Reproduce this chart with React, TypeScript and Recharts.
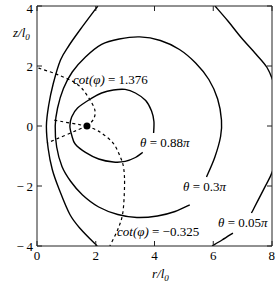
import React from 'react';
import { LineChart, Line, XAxis, YAxis, ReferenceDot } from 'recharts';

const rTicks = [0, 2, 4, 6, 8];
const zTicks = [-4, -2, 0, 2, 4];

// solid curves (r/l0, z/l0)
const theta088 = [
  { r: 3.97, z: -0.23 }, { r: 3.98, z: 0.15 }, { r: 3.9, z: 0.5 }, { r: 3.7, z: 0.85 },
  { r: 3.35, z: 1.1 }, { r: 3.0, z: 1.22 }, { r: 2.6, z: 1.2 }, { r: 2.2, z: 1.1 },
  { r: 1.85, z: 0.92 }, { r: 1.38, z: 0.6 }, { r: 1.18, z: 0.3 }, { r: 1.12, z: 0 },
  { r: 1.18, z: -0.3 }, { r: 1.3, z: -0.6 }, { r: 1.65, z: -0.88 }, { r: 2.1, z: -1.1 },
  { r: 2.6, z: -1.2 }, { r: 3.0, z: -1.18 }, { r: 3.35, z: -1.05 }, { r: 3.6, z: -0.88 },
];

const theta03 = [
  { r: 5.77, z: -1.7 }, { r: 6.05, z: -1.05 }, { r: 6.25, z: -0.35 }, { r: 6.28, z: 0.2 },
  { r: 6.15, z: 0.9 }, { r: 5.85, z: 1.55 }, { r: 5.4, z: 2.1 }, { r: 4.85, z: 2.55 },
  { r: 4.2, z: 2.85 }, { r: 3.5, z: 2.97 }, { r: 2.8, z: 2.9 }, { r: 2.2, z: 2.72 },
  { r: 1.65, z: 2.3 }, { r: 1.2, z: 1.8 }, { r: 0.9, z: 1.25 }, { r: 0.7, z: 0.6 },
  { r: 0.62, z: 0 }, { r: 0.67, z: -0.7 }, { r: 0.85, z: -1.35 }, { r: 1.15, z: -1.85 },
  { r: 1.55, z: -2.3 }, { r: 2.1, z: -2.7 }, { r: 2.75, z: -2.95 }, { r: 3.4, z: -3.05 },
  { r: 4.1, z: -3.0 }, { r: 4.7, z: -2.85 }, { r: 5.2, z: -2.63 },
];

const theta005Left = [
  { r: 2.07, z: 4 }, { r: 1.46, z: 3.2 }, { r: 1.1, z: 2.7 }, { r: 0.8, z: 2.2 },
  { r: 0.55, z: 1.4 }, { r: 0.4, z: 0.7 }, { r: 0.32, z: 0 }, { r: 0.38, z: -0.75 },
  { r: 0.52, z: -1.45 }, { r: 0.75, z: -2.1 }, { r: 1.12, z: -2.95 }, { r: 1.5, z: -3.45 },
  { r: 2.05, z: -4 },
];

const theta005Right = [
  { r: 6.06, z: 4 }, { r: 6.5, z: 3.5 }, { r: 6.95, z: 2.95 }, { r: 7.45, z: 2.4 },
  { r: 7.83, z: 1.95 }, { r: 8.05, z: 1.45 }, { r: 8.25, z: 0.7 }, { r: 8.3, z: 0 },
  { r: 8.25, z: -0.7 }, { r: 8.02, z: -1.5 }, { r: 7.76, z: -2.03 }, { r: 7.3, z: -2.9 },
];

const theta005Tail = [
  { r: 6.67, z: -3.57 }, { r: 6.3, z: -3.8 }, { r: 5.96, z: -4 },
];

// dashed curves through the point (1.7, 0)
const cotUp = [
  { r: 0.05, z: 1.93 }, { r: 0.68, z: 1.72 }, { r: 1.36, z: 1.4 }, { r: 1.74, z: 0.97 },
  { r: 1.97, z: 0.53 }, { r: 1.92, z: 0.22 }, { r: 1.7, z: 0 },
];
const cotLeft = [{ r: 1.7, z: 0 }, { r: 0.55, z: 0.2 }];
const cotDownLeft = [{ r: 1.7, z: 0 }, { r: 0.34, z: -0.57 }];
const cotDown = [
  { r: 1.7, z: 0 }, { r: 2.14, z: -0.2 }, { r: 2.59, z: -0.57 }, { r: 2.83, z: -1.02 },
  { r: 2.95, z: -1.4 }, { r: 2.98, z: -2.0 }, { r: 2.92, z: -2.9 }, { r: 2.75, z: -3.45 },
  { r: 2.48, z: -4 },
];

const focus = { r: 1.7, z: 0 };

const solid = [theta088, theta03, theta005Left, theta005Right, theta005Tail];
const dashed = [cotUp, cotLeft, cotDownLeft, cotDown];

// Catmull-Rom through the points in their given order (curves loop back on themselves)
function throughPoints(ctx: any) {
  let pts: number[][] = [];
  return {
    areaStart() {},
    areaEnd() {},
    lineStart() {
      pts = [];
    },
    point(x: number, y: number) {
      pts.push([+x, +y]);
    },
    lineEnd() {
      if (!pts.length) return;
      ctx.moveTo(pts[0][0], pts[0][1]);
      for (let i = 0; i < pts.length - 1; i++) {
        const p0 = pts[i - 1] || pts[i];
        const p1 = pts[i];
        const p2 = pts[i + 1];
        const p3 = pts[i + 2] || p2;
        ctx.bezierCurveTo(
          p1[0] + (p2[0] - p0[0]) / 6,
          p1[1] + (p2[1] - p0[1]) / 6,
          p2[0] - (p3[0] - p1[0]) / 6,
          p2[1] - (p3[1] - p1[1]) / 6,
          p2[0],
          p2[1],
        );
      }
    },
  };
}

const font = 'Liberation Serif';
const tickStyle = { fill: '#000', fontSize: 13, fontFamily: font };
const fmt = (v: number) => (v < 0 ? `\u2212\u2009${-v}` : `${v}`);

export default function App() {
  return (
    <div style={{ position: 'absolute', left: 0, top: 0, width: 275, height: 288, background: '#fff' }}>
      <LineChart width={275} height={288} margin={{ top: 5, right: 2, bottom: 0, left: 0 }}>
        <XAxis
          xAxisId="b"
          dataKey="r"
          type="number"
          domain={[0, 8]}
          ticks={rTicks}
          allowDataOverflow
          height={42}
          tickSize={-5}
          tickMargin={10}
          tick={tickStyle}
          tickFormatter={fmt}
          stroke="#222"
        />
        <XAxis
          xAxisId="t"
          orientation="top"
          dataKey="r"
          type="number"
          domain={[0, 8]}
          ticks={rTicks}
          allowDataOverflow
          height={1}
          tickSize={-5}
          tickFormatter={() => ''}
          stroke="#222"
        />
        <YAxis
          yAxisId="l"
          type="number"
          domain={[-4, 4]}
          ticks={zTicks}
          allowDataOverflow
          width={37}
          tickSize={-5}
          tickMargin={9}
          tick={tickStyle}
          tickFormatter={fmt}
          stroke="#222"
        />
        <YAxis
          yAxisId="r"
          orientation="right"
          type="number"
          domain={[-4, 4]}
          ticks={zTicks}
          allowDataOverflow
          width={1}
          tickSize={-5}
          tickFormatter={() => ''}
          stroke="#222"
        />
        {solid.map((d, i) => (
          <Line
            key={'s' + i}
            xAxisId="b"
            yAxisId="l"
            data={d}
            dataKey="z"
            type={throughPoints as any}
            stroke="#000"
            strokeWidth={1.4}
            dot={false}
            activeDot={false}
            isAnimationActive={false}
          />
        ))}
        {dashed.map((d, i) => (
          <Line
            key={'d' + i}
            xAxisId="b"
            yAxisId="l"
            data={d}
            dataKey="z"
            type={throughPoints as any}
            stroke="#000"
            strokeWidth={1.2}
            strokeDasharray="3 3"
            dot={false}
            activeDot={false}
            isAnimationActive={false}
          />
        ))}
        <ReferenceDot xAxisId="b" yAxisId="l" x={focus.r} y={focus.z} r={3.5} fill="#000" stroke="none" />
      </LineChart>
      <svg
        width={275}
        height={288}
        style={{ position: 'absolute', left: 0, top: 0, pointerEvents: 'none' }}
        fontFamily={font}
        fontSize={13}
      >
        <text x={73} y={84}>
          <tspan fontStyle="italic">cot(φ)</tspan> = 1.376
        </text>
        <text x={140} y={147}>
          <tspan fontStyle="italic">θ</tspan> = 0.88<tspan fontStyle="italic">π</tspan>
        </text>
        <text x={183} y={191}>
          <tspan fontStyle="italic">θ</tspan> = 0.3<tspan fontStyle="italic">π</tspan>
        </text>
        <text x={218} y={227}>
          <tspan fontStyle="italic">θ</tspan> = 0.05<tspan fontStyle="italic">π</tspan>
        </text>
        <text x={117} y={236}>
          <tspan fontStyle="italic">cot(φ)</tspan> = −0.325
        </text>
        <text x={13} y={37} fontStyle="italic">
          z/l<tspan fontSize={9} dy={3}>0</tspan>
        </text>
        <text x={152} y={278} fontStyle="italic">
          r/l<tspan fontSize={9} dy={3}>0</tspan>
        </text>
      </svg>
    </div>
  );
}
